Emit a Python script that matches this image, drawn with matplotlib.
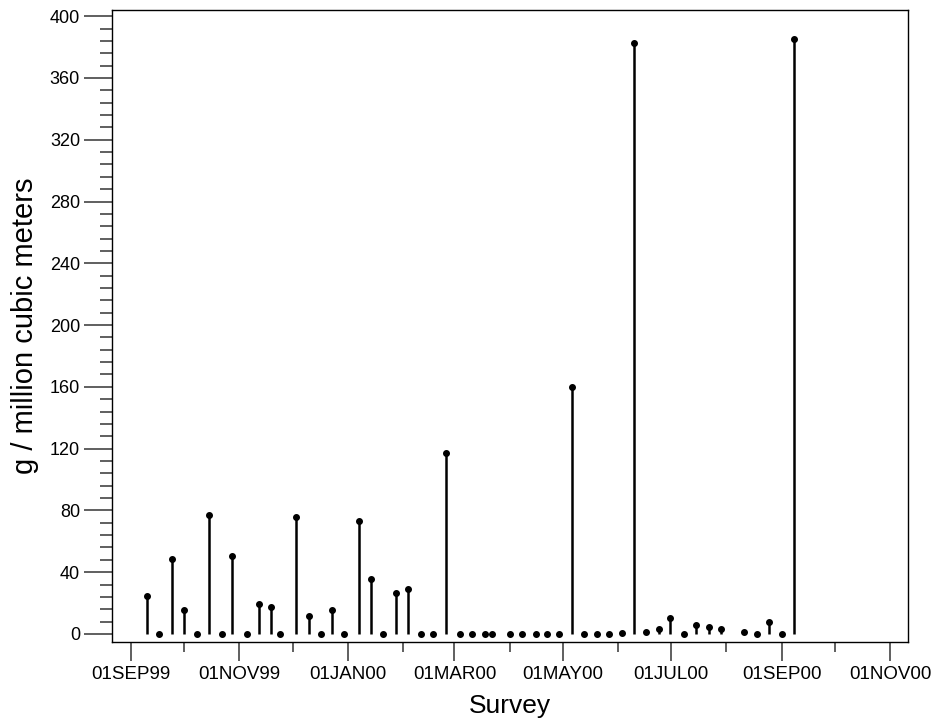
import numpy as np
import pandas as pd
import matplotlib
matplotlib.use("Agg")
import matplotlib.pyplot as plt
import matplotlib.dates as mdates
from matplotlib.ticker import MultipleLocator

plt.rcParams['font.family'] = ['Liberation Sans', 'DejaVu Sans']

# survey dates and measured values (g / million cubic meters)
dates = ["1999-09-10", "1999-09-17", "1999-09-24", "1999-10-01", "1999-10-08",
         "1999-10-15", "1999-10-22", "1999-10-28", "1999-11-05", "1999-11-12",
         "1999-11-19", "1999-11-24", "1999-12-03", "1999-12-10", "1999-12-17",
         "1999-12-23", "1999-12-30", "2000-01-07", "2000-01-14", "2000-01-21",
         "2000-01-28", "2000-02-04", "2000-02-11", "2000-02-18", "2000-02-25",
         "2000-03-04", "2000-03-11", "2000-03-18", "2000-03-22", "2000-04-01",
         "2000-04-08", "2000-04-16", "2000-04-22", "2000-04-29", "2000-05-06",
         "2000-05-13", "2000-05-20", "2000-05-27", "2000-06-03", "2000-06-10",
         "2000-06-17", "2000-06-24", "2000-06-30", "2000-07-08", "2000-07-15",
         "2000-07-22", "2000-07-29", "2000-08-11", "2000-08-18", "2000-08-25",
         "2000-09-01", "2000-09-08"]
values = [24.5, 0, 48.5, 15.8, 0,
          77, 0, 50.3, 0, 19.4,
          17.7, 0, 75.5, 11.5, 0,
          15.6, 0, 73, 35.5, 0,
          26.6, 29.4, 0, 0, 117,
          0, 0, 0, 0, 0,
          0, 0, 0, 0, 160,
          0, 0, 0, 0.8, 382.5,
          1, 3.2, 10.4, 0, 5.8,
          4.5, 3, 1.5, 0, 8,
          0, 385.5]

tick_dates = ["1999-09-01", "1999-11-01", "2000-01-01", "2000-03-01",
              "2000-05-01", "2000-07-01", "2000-09-01", "2000-11-01"]
tick_labels = ["01SEP99", "01NOV99", "01JAN00", "01MAR00",
               "01MAY00", "01JUL00", "01SEP00", "01NOV00"]

x = pd.to_datetime(dates)
y = np.array(values)

fig = plt.figure(figsize=(9.4, 7.23), dpi=100)
ax = fig.add_axes([0.1191, 0.1116, 0.8472, 0.8746])

ax.vlines(x, 0, y, color="black", lw=1.8)
ax.plot(x, y, "o", color="black", ms=4.0)

ax.set_xlim(pd.Timestamp("1999-09-01") - pd.Timedelta(days=10.7),
            pd.Timestamp("1999-09-01") + pd.Timedelta(days=437.3))
ax.set_ylim(-5.4, 404)

ax.set_xticks(pd.to_datetime(tick_dates))
ax.set_xticklabels(tick_labels, fontsize=13.5)
ax.xaxis.set_minor_locator(mdates.MonthLocator())
ax.yaxis.set_major_locator(MultipleLocator(40))
ax.yaxis.set_minor_locator(MultipleLocator(8))
for lbl in ax.get_yticklabels():
    lbl.set_fontsize(13)

ax.tick_params(axis="both", which="major", length=20, width=1.2,
               color="#444444", pad=3)
ax.tick_params(axis="x", which="major", length=14)
ax.tick_params(axis="both", which="minor", length=9, width=1.2, color="#444444")
ax.tick_params(axis="x", which="minor", length=7)

for s in ax.spines.values():
    s.set_linewidth(1.0)

ax.set_xlabel("Survey", fontsize=19, labelpad=8)
ax.set_ylabel("g / million cubic meters", fontsize=21, labelpad=8)

fig.savefig("out.png", dpi=100)
